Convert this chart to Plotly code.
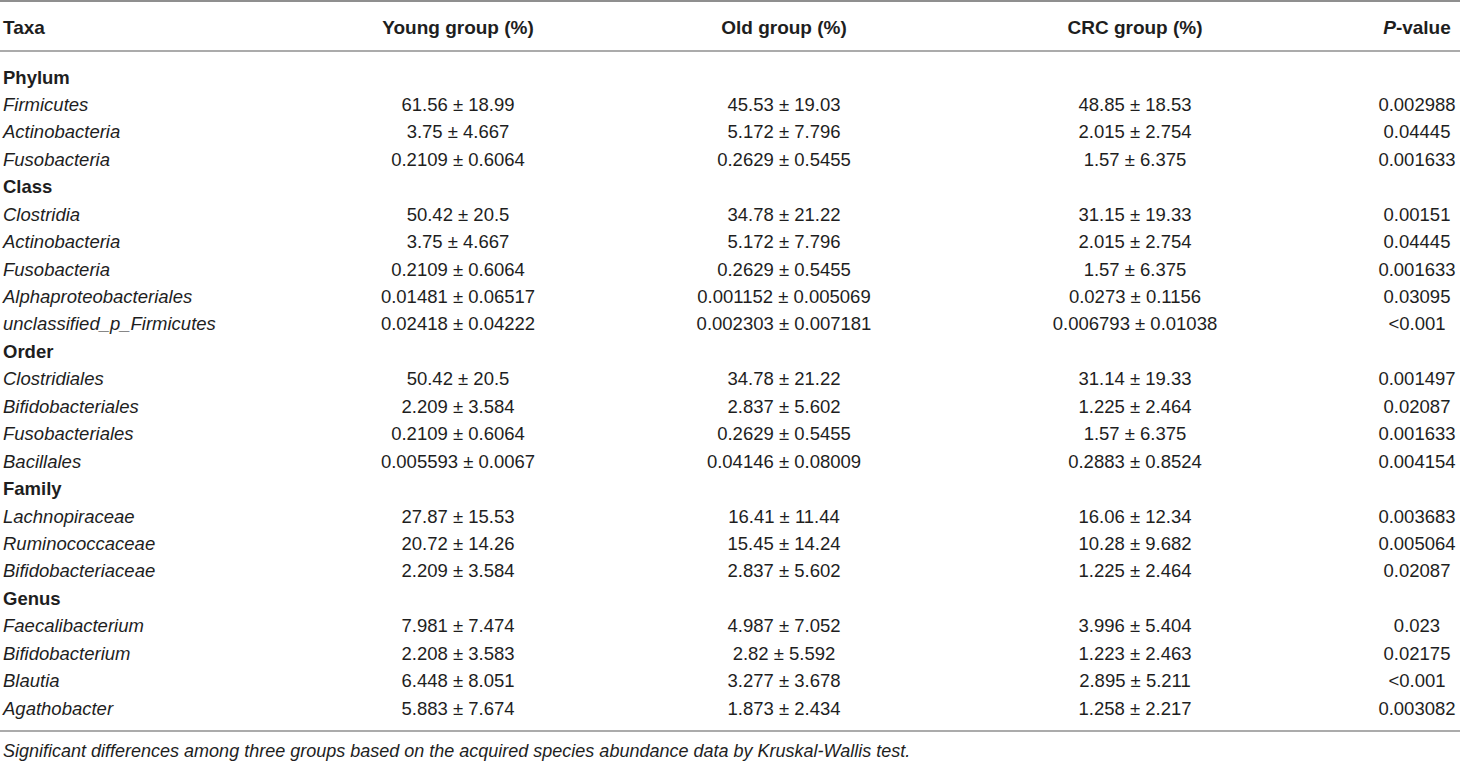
import plotly.graph_objects as go

# column headers
columns = ["Taxa", "Young group (%)", "Old group (%)", "CRC group (%)", "<i>P</i>-value"]

# taxonomic ranks and the taxa listed under each
ranks = ["Phylum", "Class", "Order", "Family", "Genus"]
taxa = [
    ["Firmicutes", "Actinobacteria", "Fusobacteria"],
    ["Clostridia", "Actinobacteria", "Fusobacteria", "Alphaproteobacteriales", "unclassified_p_Firmicutes"],
    ["Clostridiales", "Bifidobacteriales", "Fusobacteriales", "Bacillales"],
    ["Lachnopiraceae", "Ruminococcaceae", "Bifidobacteriaceae"],
    ["Faecalibacterium", "Bifidobacterium", "Blautia", "Agathobacter"],
]

# mean and sd per group, in the same order as the taxa above
young_mean = [61.56, 3.75, 0.2109, 50.42, 3.75, 0.2109, 0.01481, 0.02418, 50.42, 2.209, 0.2109, 0.005593,
              27.87, 20.72, 2.209, 7.981, 2.208, 6.448, 5.883]
young_sd = [18.99, 4.667, 0.6064, 20.5, 4.667, 0.6064, 0.06517, 0.04222, 20.5, 3.584, 0.6064, 0.0067,
            15.53, 14.26, 3.584, 7.474, 3.583, 8.051, 7.674]
old_mean = [45.53, 5.172, 0.2629, 34.78, 5.172, 0.2629, 0.001152, 0.002303, 34.78, 2.837, 0.2629, 0.04146,
            16.41, 15.45, 2.837, 4.987, 2.82, 3.277, 1.873]
old_sd = [19.03, 7.796, 0.5455, 21.22, 7.796, 0.5455, 0.005069, 0.007181, 21.22, 5.602, 0.5455, 0.08009,
          11.44, 14.24, 5.602, 7.052, 5.592, 3.678, 2.434]
crc_mean = [48.85, 2.015, 1.57, 31.15, 2.015, 1.57, 0.0273, 0.006793, 31.14, 1.225, 1.57, 0.2883,
            16.06, 10.28, 1.225, 3.996, 1.223, 2.895, 1.258]
crc_sd = [18.53, 2.754, 6.375, 19.33, 2.754, 6.375, 0.1156, 0.01038, 19.33, 2.464, 6.375, 0.8524,
          12.34, 9.682, 2.464, 5.404, 2.463, 5.211, 2.217]
p_values = ["0.002988", "0.04445", "0.001633", "0.00151", "0.04445", "0.001633", "0.03095", "<0.001",
            "0.001497", "0.02087", "0.001633", "0.004154", "0.003683", "0.005064", "0.02087",
            "0.023", "0.02175", "<0.001", "0.003082"]

footnote = "Significant differences among three groups based on the acquired species abundance data by Kruskal-Wallis test."

# build table rows: rank headings in bold, taxa in italics
col_taxa, col_young, col_old, col_crc, col_p = [], [], [], [], []
k = 0
for rank, names in zip(ranks, taxa):
    col_taxa.append(f"<b>{rank}</b>")
    for c in (col_young, col_old, col_crc, col_p):
        c.append("")
    for name in names:
        col_taxa.append(f"<i>{name}</i>")
        col_young.append(f"{young_mean[k]} ± {young_sd[k]}")
        col_old.append(f"{old_mean[k]} ± {old_sd[k]}")
        col_crc.append(f"{crc_mean[k]} ± {crc_sd[k]}")
        col_p.append(p_values[k])
        k += 1

W, H = 1460, 762
header_y = 29
first_y = 79
row_h = 27.43
row_y = [first_y + i * row_h for i in range(len(col_taxa))]

col_x = [3, 458, 784, 1135, 1417]
family = "Liberation Sans, Arial, sans-serif"
ink = "#1e1e1e"
head_font = dict(family=family, size=19, color=ink)
body_font = dict(family=family, size=18.5, color=ink)
note_font = dict(family=family, size=18, color=ink)
line_color = "#8f8f8f"
positions = ["middle right"] + ["middle center"] * 4

fig = go.Figure()

# header
fig.add_trace(go.Scatter(
    x=col_x, y=[header_y] * len(columns), mode="text",
    text=[f"<b>{c}</b>" for c in columns],
    textposition=positions, textfont=head_font, hoverinfo="skip",
))

# body columns
for x, col, pos in zip(col_x, [col_taxa, col_young, col_old, col_crc, col_p], positions):
    fig.add_trace(go.Scatter(
        x=[x] * len(col), y=row_y, mode="text", text=col,
        textposition=pos, textfont=body_font, hoverinfo="skip",
    ))

# footnote
fig.add_trace(go.Scatter(
    x=[3], y=[752], mode="text", text=[f"<i>{footnote}</i>"],
    textposition="middle right", textfont=note_font, hoverinfo="skip",
))

# rules
for y, w in [(1, 2), (51, 1.5), (731, 1.5)]:
    fig.add_shape(type="line", xref="x", yref="y", x0=0, x1=W, y0=y, y1=y,
                  line=dict(color=line_color, width=w))

fig.update_layout(
    width=W, height=H,
    margin=dict(l=0, r=0, t=0, b=0),
    paper_bgcolor="white", plot_bgcolor="white",
    showlegend=False,
    xaxis=dict(range=[0, W], visible=False, fixedrange=True),
    yaxis=dict(range=[H, 0], visible=False, fixedrange=True),
)

fig.write_html("out.html", config={"displayModeBar": False},
               post_script="document.body.style.margin='0';")
